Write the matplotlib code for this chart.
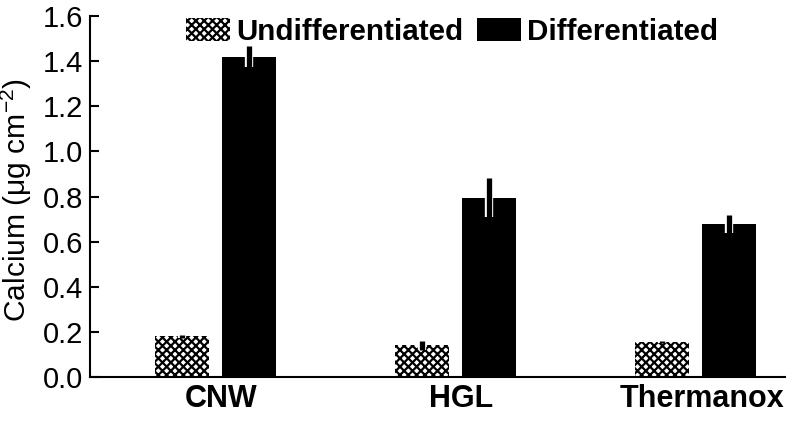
import matplotlib
matplotlib.use("Agg")
import matplotlib.pyplot as plt
import matplotlib.patheffects as pe
import numpy as np

categories = ["CNW", "HGL", "Thermanox"]
undiff = [0.18, 0.14, 0.155]
undiff_err = [0.005, 0.02, 0.005]
diff = [1.42, 0.795, 0.678]
diff_err = [0.045, 0.085, 0.04]
yticks = [0.0, 0.2, 0.4, 0.6, 0.8, 1.0, 1.2, 1.4, 1.6]

plt.rcParams['font.family'] = ['Liberation Sans', 'DejaVu Sans']
plt.rcParams['mathtext.fontset'] = 'custom'
plt.rcParams['mathtext.rm'] = 'Liberation Sans'
plt.rcParams['mathtext.it'] = 'Liberation Sans:italic'
plt.rcParams['mathtext.bf'] = 'Liberation Sans:bold'
plt.rcParams['hatch.linewidth'] = 1.6

fig = plt.figure(figsize=(7.86, 4.23), dpi=100)
ax = fig.add_axes([90/786, 1-377/423, 696/786, (377-16)/423])

x = np.arange(len(categories))
w = 0.225
off = 0.1396
b1 = ax.bar(x - off, undiff, w, color='white', edgecolor='black', linewidth=0,
            hatch='xxxx', label='Undifferentiated')
b2 = ax.bar(x + off, diff, w, color='black', edgecolor='black', linewidth=0,
            label='Differentiated')

for xs, ys, es in [(x - off, undiff, undiff_err), (x + off, diff, diff_err)]:
    eb = ax.errorbar(xs, ys, yerr=es, fmt='none', ecolor='black', elinewidth=3.8, capsize=0)
    for lc in eb[2]:
        lc.set_path_effects([pe.Stroke(linewidth=6.0, foreground='white'), pe.Normal()])
        lc.set_capstyle('butt')

ax.set_xlim(-0.523, 2.377)
ax.set_ylim(0, 1.6)
ax.set_yticks(yticks)
ax.set_yticklabels([f"{t:.1f}" for t in yticks], fontsize=21)
ax.set_xticks(x + 0.025)
ax.set_xticklabels(categories, fontsize=22, fontweight='bold')
ax.tick_params(axis='x', length=0, pad=5)
ax.tick_params(axis='y', direction='in', length=6.5, width=1.5, pad=5)
ax.spines['top'].set_visible(False)
ax.spines['right'].set_visible(False)
ax.spines['left'].set_linewidth(1.5)
ax.spines['bottom'].set_linewidth(1.5)
ax.set_ylabel("Calcium (μg cm$^{\\mathrm{-2}}$)", fontsize=21.6)
ax.yaxis.set_label_coords(-0.080, 0.49)

fig.legend(handles=[b1, b2], loc='upper center', bbox_to_anchor=(452/786, 1 - 0/423),
           ncol=2, frameon=False, handlelength=1.49, handleheight=0.81,
           handletextpad=0.2, columnspacing=0.47, borderaxespad=0.2,
           prop={'weight': 'bold', 'size': 21.3})

fig.savefig("out.png", dpi=100)
